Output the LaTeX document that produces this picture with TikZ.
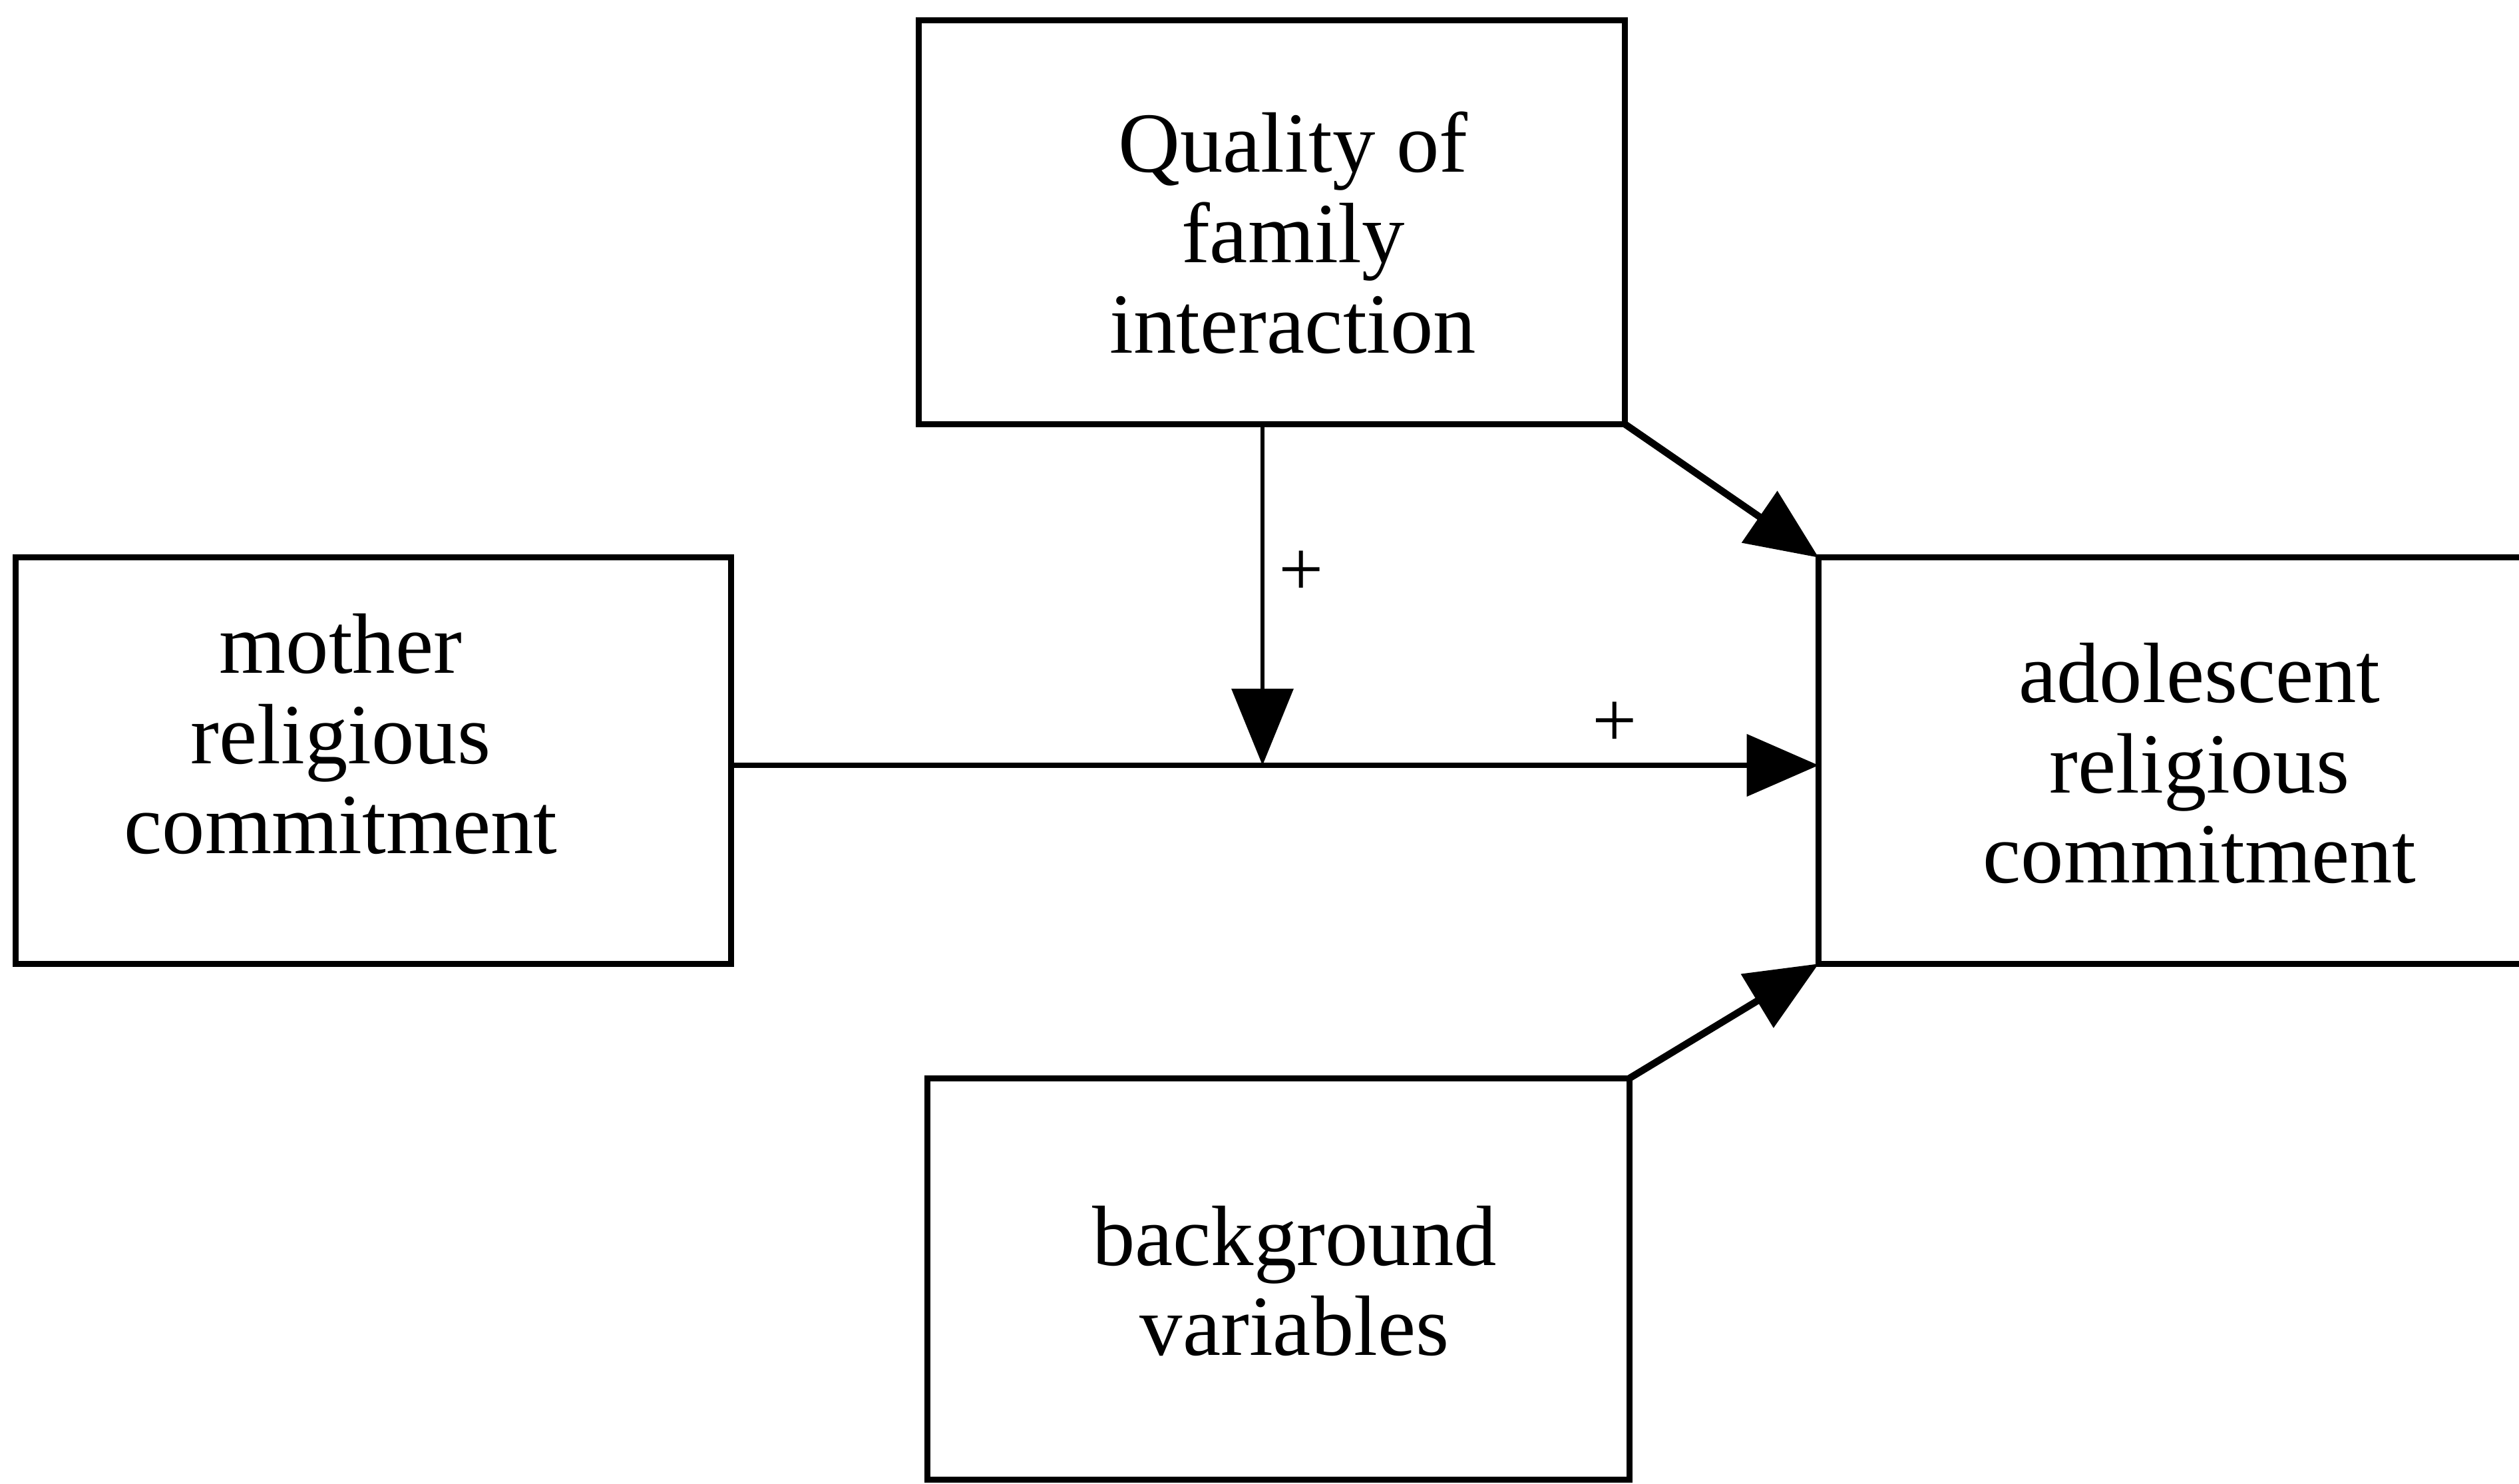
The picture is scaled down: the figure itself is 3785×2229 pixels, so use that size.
\documentclass[tikz,border=0pt]{standalone}
\usepackage{fontspec}
\setmainfont{Liberation Serif}
\usetikzlibrary{arrows.meta}
\begin{document}
\begin{tikzpicture}[x=0.01cm,y=-0.01cm,
  boxnode/.style={draw=black,line width=2.5pt,rectangle,inner sep=0pt,outer sep=0pt},
  lbl/.style={align=center,inner sep=0pt,font=\fontsize{36.6}{38.6}\selectfont},
  plus/.style={inner sep=0pt,font=\fontsize{34}{36}\selectfont},
  conn/.style={line width=2.4pt,-{Triangle[length=1.08cm,width=0.92cm]}}]
\clip (0,0) rectangle (3785,2229);
\fill[white] (0,0) rectangle (3785,2229);
% boxes
\node[boxnode,minimum width=10.6cm,minimum height=6.06cm] (q) at (1911,334) {};
\node[boxnode,minimum width=10.74cm,minimum height=6.10cm] (m) at (561,1143) {};
\node[boxnode,minimum width=11.6cm,minimum height=6.10cm] (a) at (3313,1143) {};
\node[boxnode,minimum width=10.54cm,minimum height=6.03cm] (b) at (1921,1922) {};
% texts
\node[lbl] (qt) at (1943,350) {Quality of\\family\\interaction};
\node[lbl] (mt) at (512,1103) {mother\\religious\\commitment};
\node[lbl] (at) at (3305,1147) {adolescent\\religious\\commitment};
\node[lbl] (bt) at (1945,1925) {background\\variables};
% connectors
\coordinate (jx) at (1897,1150);
\draw[line width=1.8pt,-{Triangle[length=1.15cm,width=0.92cm]}] (q.south -| jx) -- (jx);
\draw[conn] (m.east |- jx) -- (a.west |- jx);
\draw[conn,line width=3pt] (q.south east) -- (a.north west);
\draw[conn,line width=3pt] (b.north east) -- (a.south west);
% signs
\node[plus] (p1) at (1955,862) {+};
\node[plus] (p2) at (2426,1089) {+};
\end{tikzpicture}
\end{document}
